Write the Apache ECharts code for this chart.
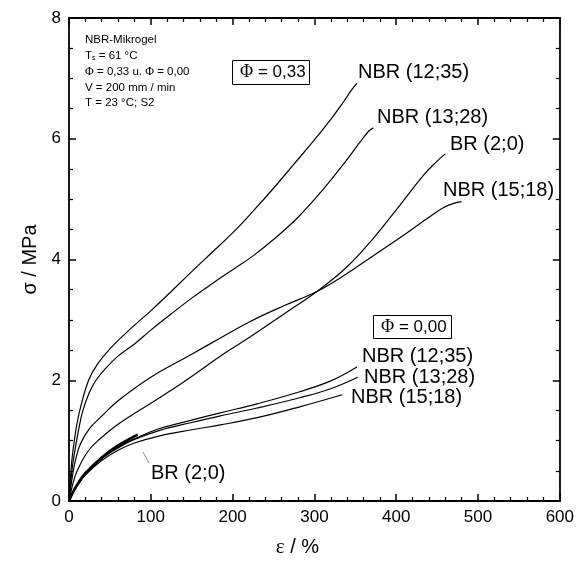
<!DOCTYPE html>
<html><head><meta charset="utf-8">
<script src="https://cdn.jsdelivr.net/npm/echarts@6/dist/echarts.min.js"></script>
<style>html,body{margin:0;padding:0;background:#fff}#c{width:577px;height:563px}</style>
</head><body><div id="c"></div>
<script>
// ---- Data (strain ε in %, stress σ in MPa) ----
const xTicks = [0,100,200,300,400,500,600];
const yTicks = [0,2,4,6,8];

// Φ = 0,33
const nbr1235_33 = [[0,0],[3,0.6],[6,0.95],[10,1.3],[15,1.6],[24,2.0],[35,2.27],[50,2.52],[75,2.85],[100,3.15],[125,3.47],[150,3.8],[175,4.12],[200,4.44],[225,4.8],[250,5.18],[275,5.58],[300,5.98],[320,6.32],[335,6.6],[345,6.8],[352,6.92]];
const nbr1328_33 = [[0,0],[4,0.55],[8,0.9],[12,1.2],[17,1.5],[25,1.8],[33,2.0],[45,2.2],[60,2.4],[80,2.6],[100,2.83],[125,3.1],[150,3.36],[175,3.6],[200,3.83],[225,4.06],[250,4.33],[280,4.7],[310,5.15],[335,5.57],[355,5.93],[366,6.12],[372,6.18]];
const br20_33 = [[0,0],[5,0.3],[10,0.5],[23,0.82],[38,1.03],[60,1.27],[100,1.62],[130,1.88],[158,2.14],[187,2.42],[224,2.74],[262,3.09],[303,3.47],[340,3.88],[372,4.35],[401,4.84],[433,5.39],[450,5.63],[460,5.75]];
const nbr1518_33 = [[0,0],[4,0.4],[8,0.68],[14,0.95],[25,1.2],[38,1.38],[60,1.66],[100,2.05],[150,2.43],[185,2.7],[221,2.97],[262,3.23],[303,3.47],[339,3.76],[376,4.1],[413,4.44],[440,4.7],[458,4.86],[470,4.93],[480,4.96]];

// Φ = 0,00
const nbr1235_00 = [[0,0],[5,0.15],[10,0.27],[20,0.46],[40,0.71],[60,0.9],[80,1.03],[111,1.2],[150,1.34],[185,1.46],[230,1.61],[282,1.81],[320,1.99],[352,2.22]];
const nbr1328_00 = [[0,0],[5,0.15],[10,0.27],[20,0.45],[40,0.7],[60,0.88],[80,1.02],[111,1.17],[150,1.3],[185,1.41],[230,1.54],[282,1.71],[320,1.86],[353,2.05]];
const nbr1518_00 = [[0,0],[5,0.14],[10,0.25],[20,0.43],[40,0.67],[60,0.84],[80,0.96],[111,1.08],[150,1.18],[185,1.26],[230,1.38],[282,1.56],[334,1.76]];
const br20_00 = [[0,0],[5,0.15],[10,0.27],[20,0.46],[40,0.72],[60,0.92],[84,1.1]];

const allSeries = [
  {name:'NBR (12;35) Φ=0,33', data:nbr1235_33},
  {name:'NBR (13;28) Φ=0,33', data:nbr1328_33},
  {name:'BR (2;0) Φ=0,33', data:br20_33},
  {name:'NBR (15;18) Φ=0,33', data:nbr1518_33},
  {name:'NBR (12;35) Φ=0,00', data:nbr1235_00},
  {name:'NBR (13;28) Φ=0,00', data:nbr1328_00},
  {name:'NBR (15;18) Φ=0,00', data:nbr1518_00},
  {name:'BR (2;0) Φ=0,00', data:br20_00, thick:true}
];

const chart = echarts.init(document.getElementById('c'), null, {renderer:'canvas'});
const F = '"Liberation Sans", Arial, sans-serif';
const SER = '"Liberation Serif", "Times New Roman", serif';
const axisBase = (pos, isX, showLabel) => ({
  type:'value', position:pos,
  min:0, max: isX ? 600 : 8, interval: isX ? 100 : 2,
  axisLine:{show:true, onZero:false, lineStyle:{color:'#000', width:1.8}},
  axisTick:{show:true, inside:true, length:7, lineStyle:{color:'#000', width:1.5}},
  minorTick:{show:true, splitNumber: isX ? 5 : 4, length:4, lineStyle:{color:'#000', width:1.2}},
  splitLine:{show:false}, minorSplitLine:{show:false},
  axisLabel:{show:showLabel, color:'#000', fontFamily:F, fontSize:17, margin:8}
});
const x0 = axisBase('bottom', true, true);
x0.name = '{e|ε} / %'; x0.nameLocation='middle'; x0.nameGap=36;
x0.nameTextStyle = {fontFamily:F, fontSize:20, color:'#000', padding:[0,34,0,0], rich:{e:{fontFamily:SER, fontSize:21, color:'#000'}}};
const y0 = axisBase('left', false, true);
y0.name = 'σ / MPa'; y0.nameLocation='middle'; y0.nameGap=28;
y0.nameTextStyle = {fontFamily:F, fontSize:20, color:'#000'};

const labels = [
  {t:'NBR (12;35)', x:358, y:73},
  {t:'NBR (13;28)', x:377, y:118},
  {t:'BR (2;0)', x:450, y:145},
  {t:'NBR (15;18)', x:443, y:191},
  {t:'NBR (12;35)', x:362, y:357},
  {t:'NBR (13;28)', x:364, y:378},
  {t:'NBR (15;18)', x:351, y:398},
  {t:'BR (2;0)', x:151, y:474}
];
const graphics = labels.map(l => ({type:'text', left:l.x, top:l.y-11, style:{text:l.t, fontFamily:F, fontSize:20, fill:'#000'}}));
// boxes
graphics.push({type:'rect', shape:{x:232.5, y:60.5, width:77, height:24}, style:{fill:'#fff', stroke:'#000', lineWidth:1}});
graphics.push({type:'text', left:240, top:63, style:{rich:{p:{fontFamily:SER, fontSize:18, fill:'#000'}, n:{fontFamily:F, fontSize:17, fill:'#000'}}, text:'{p|Φ}{n| = 0,33}'}});
graphics.push({type:'rect', shape:{x:373.5, y:315.5, width:78, height:23}, style:{fill:'#fff', stroke:'#000', lineWidth:1}});
graphics.push({type:'text', left:381, top:318, style:{rich:{p:{fontFamily:SER, fontSize:18, fill:'#000'}, n:{fontFamily:F, fontSize:17, fill:'#000'}}, text:'{p|Φ}{n| = 0,00}'}});
// leader line for BR (2;0) Φ=0,00 label
graphics.push({type:'line', shape:{x1:143, y1:452, x2:149, y2:463}, style:{stroke:'#888', lineWidth:1}});
// info block
const info = ['NBR-Mikrogel', '{n|T}{s|s}{n| = 61 °C}', '{p|Φ}{n| = 0,33 u. }{p|Φ}{n| = 0,00}', 'V = 200 mm / min', 'T = 23 °C; S2'];
info.forEach((t,i) => graphics.push({type:'text', left:85, top:34 + i*15.8, style:{
  text:t, fontFamily:F, fontSize:11.5, fill:'#000',
  rich:{n:{fontFamily:F, fontSize:11.5, fill:'#000'}, s:{fontFamily:F, fontSize:7, fill:'#000', padding:[5,0,0,0]}, p:{fontFamily:SER, fontSize:12, fill:'#000'}}
}}));

chart.setOption({
  animation:false,
  backgroundColor:'#fff',
  grid:{left:69, right:17, top:18, bottom:58, containLabel:false},
  xAxis:[x0, axisBase('top', true, false)],
  yAxis:[y0, axisBase('right', false, false)],
  series: allSeries.map(s => ({
    type:'line', name:s.name, data:s.data, xAxisIndex:0, yAxisIndex:0,
    showSymbol:false, symbol:'none', smooth:0.4,
    lineStyle:{color:'#000', width: s.thick ? 2.6 : 1.2}
  })),
  graphic: graphics
});
</script></body></html>
